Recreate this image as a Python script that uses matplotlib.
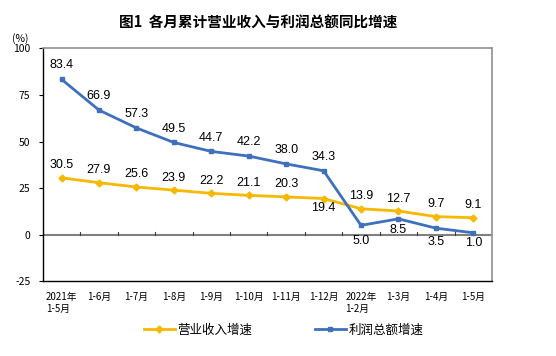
import matplotlib
matplotlib.use('Agg')
import matplotlib.pyplot as plt
import numpy as np

plt.rcParams['font.family'] = ['Noto Sans CJK SC', 'DejaVu Sans']

# data
periods = ['2021年\n1-5月', '1-6月', '1-7月', '1-8月', '1-9月', '1-10月', '1-11月',
           '1-12月', '2022年\n1-2月', '1-3月', '1-4月', '1-5月']
revenue = [30.5, 27.9, 25.6, 23.9, 22.2, 21.1, 20.3, 19.4, 13.9, 12.7, 9.7, 9.1]
profit = [83.4, 66.9, 57.3, 49.5, 44.7, 42.2, 38.0, 34.3, 5.0, 8.5, 3.5, 1.0]
series_names = ['营业收入增速', '利润总额增速']
yticks = [-25, 0, 25, 50, 75, 100]

# label offsets in points (style only)
rev_off = [9] * 12
rev_off[7] = -7
prof_off = [10] * 12
prof_off[8] = -11
prof_off[9] = -8
prof_off[10] = -10
prof_off[11] = -7

orange = '#F7B800'
blue = '#3F70BC'

fig = plt.figure(figsize=(5.56, 3.56), dpi=100)
ax = fig.add_axes([0.077, 0.21, 0.808, 0.654])

x = np.arange(len(periods))
ax.plot(x, revenue, color=orange, lw=2, marker='D', ms=3.5, label=series_names[0], zorder=3)
ax.plot(x, profit, color=blue, lw=2, marker='s', ms=3.5, label=series_names[1], zorder=4)

for xi, v, o in zip(x, revenue, rev_off):
    ax.annotate('%.1f' % v, (xi, v), xytext=(0, o), textcoords='offset points',
                ha='center', va='center', fontsize=9, family='Liberation Sans')
for xi, v, o in zip(x, profit, prof_off):
    ax.annotate('%.1f' % v, (xi, v), xytext=(0, o), textcoords='offset points',
                ha='center', va='center', fontsize=9, family='Liberation Sans')

ax.set_xlim(-0.5, len(periods) - 0.5)
ax.set_ylim(-25, 100)
ax.set_yticks(yticks)
ax.set_yticklabels([str(t) for t in yticks], fontsize=7.5)
ax.tick_params(axis='y', length=3, pad=6)

# zero line with category boundary ticks
ax.axhline(0, color='#808080', lw=1.5, zorder=2)
for b in np.arange(0.5, len(periods) - 0.5, 1):
    ax.plot([b, b], [0, 1.6], color='#404040', lw=0.8, zorder=2)

ax.set_xticks(x)
ax.set_xticklabels(periods, fontsize=7, multialignment='left')
ax.tick_params(axis='x', length=0, pad=8)

for side in ['top', 'right']:
    ax.spines[side].set_color('#909090')
    ax.spines[side].set_linewidth(1.2)
for side in ['left', 'bottom']:
    ax.spines[side].set_color('black')
    ax.spines[side].set_linewidth(1)

fig.text(0.022, 0.883, '(%)', fontsize=7.5)
fig.text(0.464, 0.935, '图1  各月累计营业收入与利润总额同比增速', fontsize=10.5,
         fontweight='bold', ha='center', va='center')

fig.legend(loc='center', bbox_to_anchor=(0.51, 0.072), ncol=2, frameon=False, fontsize=9,
           handlelength=2.5, columnspacing=5, handletextpad=0.2)

fig.savefig('out.png', dpi=100)
